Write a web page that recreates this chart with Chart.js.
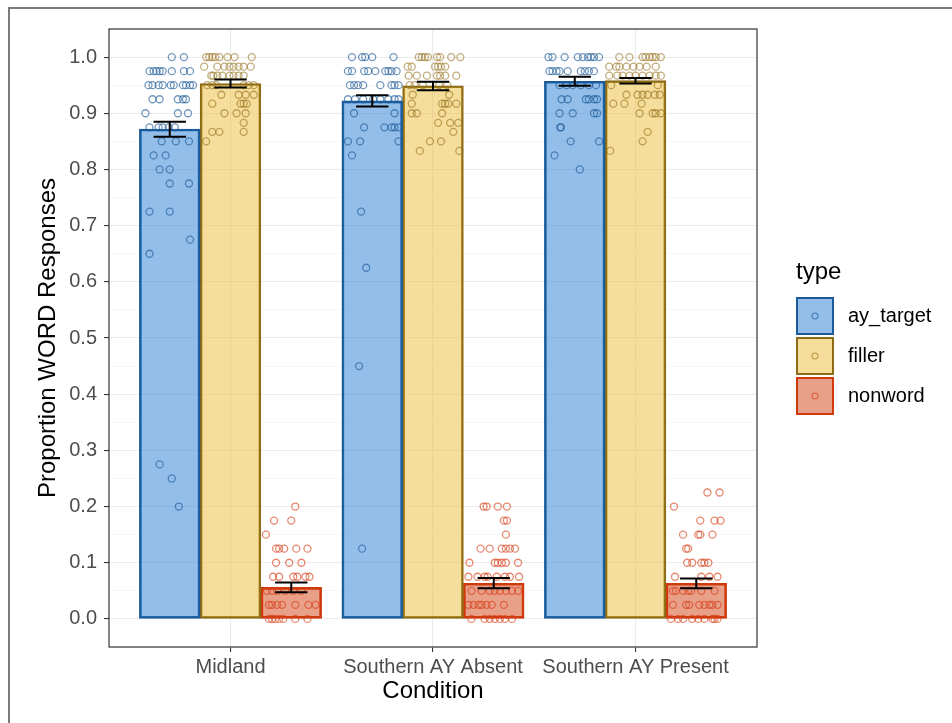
<!DOCTYPE html>
<html>
<head>
<meta charset="utf-8">
<script src="https://cdn.jsdelivr.net/npm/chart.js@4/dist/chart.umd.min.js"></script>
<style>
  html, body { margin: 0; padding: 0; background: #ffffff; }
  #wrap { position: relative; width: 952px; height: 723px; overflow: hidden; }
  #frame { position: absolute; left: 8px; top: 7px; width: 1000px; height: 800px; border: 2px solid #7a7a7a; box-sizing: border-box; pointer-events: none; }
  canvas { display: block; }
</style>
</head>
<body>
<div id="wrap">
  <canvas id="c" width="952" height="723"></canvas>
  <div id="frame"></div>
</div>
<script>
// ---------------- DATA ----------------
const categories = ['Midland', 'Southern AY Absent', 'Southern AY Present'];
const types = ['ay_target', 'filler', 'nonword'];

// bar heights (means) per condition
const ayTargetMean = [0.872, 0.922, 0.957];
const fillerMean   = [0.953, 0.949, 0.958];
const nonwordMean  = [0.056, 0.0635, 0.0635];

// error bar ends (lower / upper) per condition
const ayTargetLow  = [0.858, 0.912, 0.949];
const ayTargetHigh = [0.885, 0.932, 0.965];
const fillerLow    = [0.946, 0.941, 0.953];
const fillerHigh   = [0.960, 0.956, 0.963];
const nonwordLow   = [0.0475, 0.0546, 0.0546];
const nonwordHigh  = [0.065, 0.073, 0.072];

// y tick values and labels
const yTicks = [0, 0.1, 0.2, 0.3, 0.4, 0.5, 0.6, 0.7, 0.8, 0.9, 1.0];
const yTickLabels = ['0.0','0.1','0.2','0.3','0.4','0.5','0.6','0.7','0.8','0.9','1.0'];

// participant points: [proportion, [horizontal jitter of each point, in category units]]
const ayMidlandPts = [
  [1.0,   [0.01, 0.07]],
  [0.975, [-0.10, -0.08, -0.065, -0.05, -0.035, 0.01, 0.07, 0.10]],
  [0.95,  [-0.105, -0.085, -0.055, -0.035, 0.005, 0.02, 0.065, 0.08, 0.10, 0.115]],
  [0.925, [-0.085, -0.05, 0.04, 0.065, 0.08]],
  [0.9,   [-0.12, 0.04, 0.09]],
  [0.875, [-0.10, -0.055, -0.035, -0.005, 0.025]],
  [0.85,  [-0.04, 0.03, 0.095]],
  [0.825, [-0.08, -0.02]],
  [0.8,   [-0.05, 0]],
  [0.775, [0, 0.095]],
  [0.725, [-0.10, 0]],
  [0.675, [0.10]],
  [0.65,  [-0.10]],
  [0.275, [-0.05]],
  [0.25,  [0.01]],
  [0.2,   [0.045]]
];
const ayAbsentPts = [
  [1.0,   [-0.10, -0.05, -0.035, 0, 0.105]],
  [0.975, [-0.12, -0.10, -0.04, -0.02, 0.015, 0.065, 0.08, 0.095, 0.12]],
  [0.95,  [-0.11, -0.09, -0.07, -0.045, 0.04, 0.095, 0.11, 0.13]],
  [0.925, [-0.12, -0.085, -0.045, 0.005, 0.04, 0.08, 0.11, 0.13]],
  [0.9,   [-0.09, 0.11]],
  [0.875, [-0.04, 0.06, 0.095, 0.11, 0.13]],
  [0.85,  [-0.12, -0.06, 0.13]],
  [0.825, [-0.10]],
  [0.725, [-0.055]],
  [0.625, [-0.03]],
  [0.45,  [-0.065]],
  [0.125, [-0.05]]
];
const ayPresentPts = [
  [1.0,   [-0.13, -0.11, -0.05, 0.015, 0.04, 0.065, 0.08, 0.095, 0.12]],
  [0.975, [-0.125, -0.11, -0.09, -0.075, -0.035, 0.03, 0.05, 0.07, 0.095]],
  [0.95,  [-0.075, -0.04, -0.01, 0.03, 0.07, 0.105]],
  [0.925, [-0.065, -0.035, 0.055, 0.07, 0.095, 0.11]],
  [0.9,   [-0.075, -0.01, 0.095, 0.11]],
  [0.875, [-0.072, -0.068]],
  [0.85,  [-0.02, 0.12]],
  [0.825, [-0.10]],
  [0.8,   [0.025]]
];
const fillerMidlandPts = [
  [1.0,   [-0.12, -0.105, -0.09, -0.075, -0.055, -0.015, 0.02, 0.105]],
  [0.983, [-0.13, -0.065, -0.03, -0.005, 0.015, 0.04, 0.065, 0.10]],
  [0.967, [-0.095, -0.085, -0.065, -0.04, -0.005, 0.015, 0.04, 0.065]],
  [0.95,  [-0.115, -0.09, -0.07, 0.065, 0.09, 0.115]],
  [0.933, [-0.045, 0.04, 0.075, 0.115]],
  [0.917, [-0.09, 0.05, 0.065, 0.08]],
  [0.9,   [-0.03, 0.03, 0.075]],
  [0.883, [0.065]],
  [0.867, [-0.09, -0.055, 0.065]],
  [0.85,  [-0.12]]
];
const fillerAbsentPts = [
  [1.0,   [-0.07, -0.055, -0.04, -0.025, 0.02, 0.035, 0.09, 0.135]],
  [0.983, [-0.125, -0.105, 0.01, 0.025, 0.04, 0.06]],
  [0.967, [-0.12, -0.08, -0.03, 0.02, 0.035, 0.06, 0.115]],
  [0.95,  [-0.115, -0.09, -0.05, 0.03, 0.07]],
  [0.933, [-0.10, 0.08]],
  [0.917, [-0.105, 0.045, 0.06, 0.075, 0.115]],
  [0.9,   [-0.105, -0.08, 0.045]],
  [0.883, [0.025, 0.085, 0.125]],
  [0.867, [0.10]],
  [0.85,  [-0.015, 0.04]],
  [0.833, [-0.065, 0.13]]
];
const fillerPresentPts = [
  [1.0,   [-0.08, -0.03, 0.035, 0.05, 0.07, 0.085, 0.10, 0.125]],
  [0.983, [-0.13, -0.095, -0.08, -0.045, -0.01, 0.02, 0.055, 0.10]],
  [0.967, [-0.13, -0.09, -0.063, -0.03, 0, 0.035, 0.07, 0.10, 0.125]],
  [0.95,  [-0.12, 0.11]],
  [0.933, [-0.045, 0.01, 0.035, 0.06, 0.095, 0.12]],
  [0.917, [-0.11, -0.055, 0.03]],
  [0.9,   [0.02, 0.085, 0.10, 0.125]],
  [0.867, [0.06]],
  [0.85,  [0.035]],
  [0.833, [-0.125]]
];
const nonwordMidlandPts = [
  [0.2,   [0.02]],
  [0.175, [-0.085, 0.0]],
  [0.15,  [-0.125]],
  [0.125, [-0.075, -0.06, -0.035, 0.025, 0.08]],
  [0.1,   [-0.075, -0.01, 0.05]],
  [0.075, [-0.09, -0.06, 0.01, 0.03, 0.07, 0.09]],
  [0.05,  [-0.12, -0.095, -0.07, -0.03, 0.01, 0.05]],
  [0.025, [-0.11, -0.095, -0.07, -0.045, 0.02, 0.085, 0.12]],
  [0.0,   [-0.11, -0.095, -0.08, -0.06, -0.04, 0.02, 0.08]]
];
const nonwordAbsentPts = [
  [0.2,   [-0.05, -0.035, 0.02, 0.065]],
  [0.175, [0.05, 0.065]],
  [0.15,  [0.06]],
  [0.125, [-0.065, -0.02, 0.04, 0.06, 0.08, 0.105]],
  [0.1,   [-0.12, 0.005, 0.02, 0.04, 0.06, 0.12]],
  [0.075, [-0.125, -0.08, -0.045, -0.03, 0.015, 0.055, 0.08, 0.125]],
  [0.05,  [-0.11, -0.06, -0.02, 0.005, 0.03, 0.06, 0.09, 0.12]],
  [0.025, [-0.125, -0.10, -0.075, -0.06, -0.035, -0.01, 0.05]],
  [0.0,   [-0.11, -0.045, -0.02, 0.005, 0.03, 0.055, 0.09]]
];
const nonwordPresentPts = [
  [0.225, [0.055, 0.115]],
  [0.2,   [-0.11]],
  [0.175, [0.02, 0.09, 0.12]],
  [0.15,  [-0.065, 0.01, 0.02, 0.08]],
  [0.125, [-0.05, -0.04]],
  [0.1,   [-0.045, -0.02, 0.025, 0.04, 0.06]],
  [0.075, [-0.105, 0.025, 0.065, 0.105]],
  [0.05,  [-0.115, -0.10, -0.065, -0.04, -0.025, 0.025, 0.09]],
  [0.025, [-0.115, -0.05, -0.035, 0.015, 0.04, 0.065, 0.08, 0.105]],
  [0.0,   [-0.125, -0.09, -0.065, -0.02, 0.01, 0.04, 0.08, 0.09, 0.105]]
];

// ---------------- STYLE / LAYOUT ----------------
const FONT = '"Liberation Sans", Arial, Helvetica, sans-serif';
const dodge = [-0.3, 0, 0.3];          // dodge offset of each type within a category
const errHalfWidth = 0.08;             // half width of error-bar caps (category units)
const fills   = ['rgba(40,126,213,0.5)', 'rgba(236,187,56,0.5)', 'rgba(212,66,20,0.5)'];
const borders = ['#1B5A98', '#8C6A16', '#CF3A0C'];
const pointCols = ['rgba(27,88,150,0.62)', 'rgba(150,112,25,0.58)', 'rgba(215,62,22,0.62)'];

const means = [ayTargetMean, fillerMean, nonwordMean];
const lows  = [ayTargetLow, fillerLow, nonwordLow];
const highs = [ayTargetHigh, fillerHigh, nonwordHigh];
const pointSets = [
  [ayMidlandPts, ayAbsentPts, ayPresentPts],
  [fillerMidlandPts, fillerAbsentPts, fillerPresentPts],
  [nonwordMidlandPts, nonwordAbsentPts, nonwordPresentPts]
];

function barData(t) {
  return categories.map((c, i) => ({ x: i + 1 + dodge[t], y: means[t][i] }));
}
function pointData(t) {
  const out = [];
  pointSets[t].forEach((rows, i) => {
    rows.forEach(([val, jit]) => {
      jit.forEach(j => out.push({ x: i + 1 + dodge[t] + j, y: val }));
    });
  });
  return out;
}

const datasets = [];
types.forEach((name, t) => {
  datasets.push({
    type: 'bar', label: name, data: barData(t),
    backgroundColor: fills[t], borderColor: borders[t], borderWidth: 2,
    borderSkipped: false, grouped: false, barPercentage: 1, categoryPercentage: 1,
    order: 3
  });
});
types.forEach((name, t) => {
  datasets.push({
    type: 'scatter', label: name + ' points', data: pointData(t),
    pointRadius: 3.5, pointBorderWidth: 1.3, pointBackgroundColor: 'rgba(0,0,0,0)',
    pointBorderColor: pointCols[t], showLine: false, order: 2
  });
});

const isMajor = v => yTicks.some(t => Math.abs(t - v) < 1e-6);
const yGrid = [];
for (let k = -1; k <= 21; k++) yGrid.push(+(k * 0.05).toFixed(2));

const errorBarPlugin = {
  id: 'errorBars',
  afterDatasetsDraw(chart) {
    const { ctx, scales: { x, y } } = chart;
    ctx.save();
    ctx.strokeStyle = '#000';
    ctx.lineWidth = 2;
    types.forEach((name, t) => {
      categories.forEach((c, i) => {
        const cx = i + 1 + dodge[t];
        const px = x.getPixelForValue(cx);
        const l = x.getPixelForValue(cx - errHalfWidth);
        const r = x.getPixelForValue(cx + errHalfWidth);
        const yl = y.getPixelForValue(lows[t][i]);
        const yh = y.getPixelForValue(highs[t][i]);
        ctx.beginPath();
        ctx.moveTo(px, yl); ctx.lineTo(px, yh);
        ctx.moveTo(l, yl); ctx.lineTo(r, yl);
        ctx.moveTo(l, yh); ctx.lineTo(r, yh);
        ctx.stroke();
      });
    });
    ctx.restore();
  }
};

const panelAndLegendPlugin = {
  id: 'panelLegend',
  afterDraw(chart) {
    const { ctx, chartArea: a } = chart;
    ctx.save();
    ctx.strokeStyle = '#333333';
    ctx.lineWidth = 1.2;
    ctx.strokeRect(a.left, a.top, a.right - a.left, a.bottom - a.top);

    // legend
    const lx = a.right + 39, ly = 297;
    ctx.fillStyle = '#000';
    ctx.textBaseline = 'middle';
    ctx.textAlign = 'left';
    ctx.font = '24px ' + FONT;
    ctx.fillText('type', lx, 272);
    types.forEach((name, t) => {
      const y0 = ly + 40 * t;
      ctx.fillStyle = '#ffffff';
      ctx.fillRect(lx, y0, 38, 38);
      ctx.fillStyle = fills[t];
      ctx.fillRect(lx, y0, 38, 38);
      ctx.strokeStyle = borders[t];
      ctx.lineWidth = 2;
      ctx.strokeRect(lx + 1, y0 + 1, 36, 36);
      ctx.beginPath();
      ctx.arc(lx + 19, y0 + 19, 3, 0, Math.PI * 2);
      ctx.strokeStyle = pointCols[t];
      ctx.lineWidth = 1.2;
      ctx.stroke();
      ctx.fillStyle = '#000';
      ctx.font = '20px ' + FONT;
      ctx.fillText(name, lx + 52, y0 + 19);
    });
    ctx.restore();
  }
};

Chart.defaults.font.family = FONT;

new Chart(document.getElementById('c'), {
  type: 'bar',
  data: { datasets },
  options: {
    responsive: false,
    animation: false,
    devicePixelRatio: 1,
    layout: { padding: { top: 29, right: 195, bottom: 0, left: 0 } },
    plugins: { legend: { display: false }, tooltip: { enabled: false } },
    scales: {
      x: {
        type: 'linear', min: 0.4, max: 3.6, offset: false,
        afterBuildTicks: s => { s.ticks = categories.map((c, i) => ({ value: i + 1 })); },
        afterFit: s => { s.height = 76; },
        ticks: {
          autoSkip: false, maxRotation: 0, minRotation: 0,
          callback: v => categories[Math.round(v) - 1] || '',
          color: '#4D4D4D', font: { size: 20 }, padding: 3
        },
        grid: { offset: false, color: '#EBEBEB', lineWidth: 1.1, tickColor: '#333333', tickLength: 5, tickWidth: 1.1 },
        border: { display: false },
        title: { display: true, text: 'Condition', color: '#000', font: { size: 24 }, padding: { top: 0, bottom: 17 } }
      },
      y: {
        type: 'linear', min: -0.05, max: 1.05,
        afterBuildTicks: s => { s.ticks = yGrid.map(v => ({ value: v })); },
        afterFit: s => { s.width = 109; },
        ticks: {
          autoSkip: false,
          callback: v => { const i = yTicks.findIndex(t => Math.abs(t - v) < 1e-6); return i >= 0 ? yTickLabels[i] : ''; },
          color: '#4D4D4D', font: { size: 20 }, padding: 7
        },
        grid: {
          color: c => isMajor(c.tick.value) ? '#EBEBEB' : '#F4F4F4',
          lineWidth: c => isMajor(c.tick.value) ? 1.1 : 0.7,
          tickColor: c => isMajor(c.tick.value) ? '#333333' : 'rgba(0,0,0,0)',
          tickLength: 5, tickWidth: 1.1
        },
        border: { display: false },
        title: { display: true, text: 'Proportion WORD Responses', color: '#000', font: { size: 24 }, padding: { top: 34, bottom: 0 } }
      }
    }
  },
  plugins: [errorBarPlugin, panelAndLegendPlugin]
});
</script>
</body>
</html>
